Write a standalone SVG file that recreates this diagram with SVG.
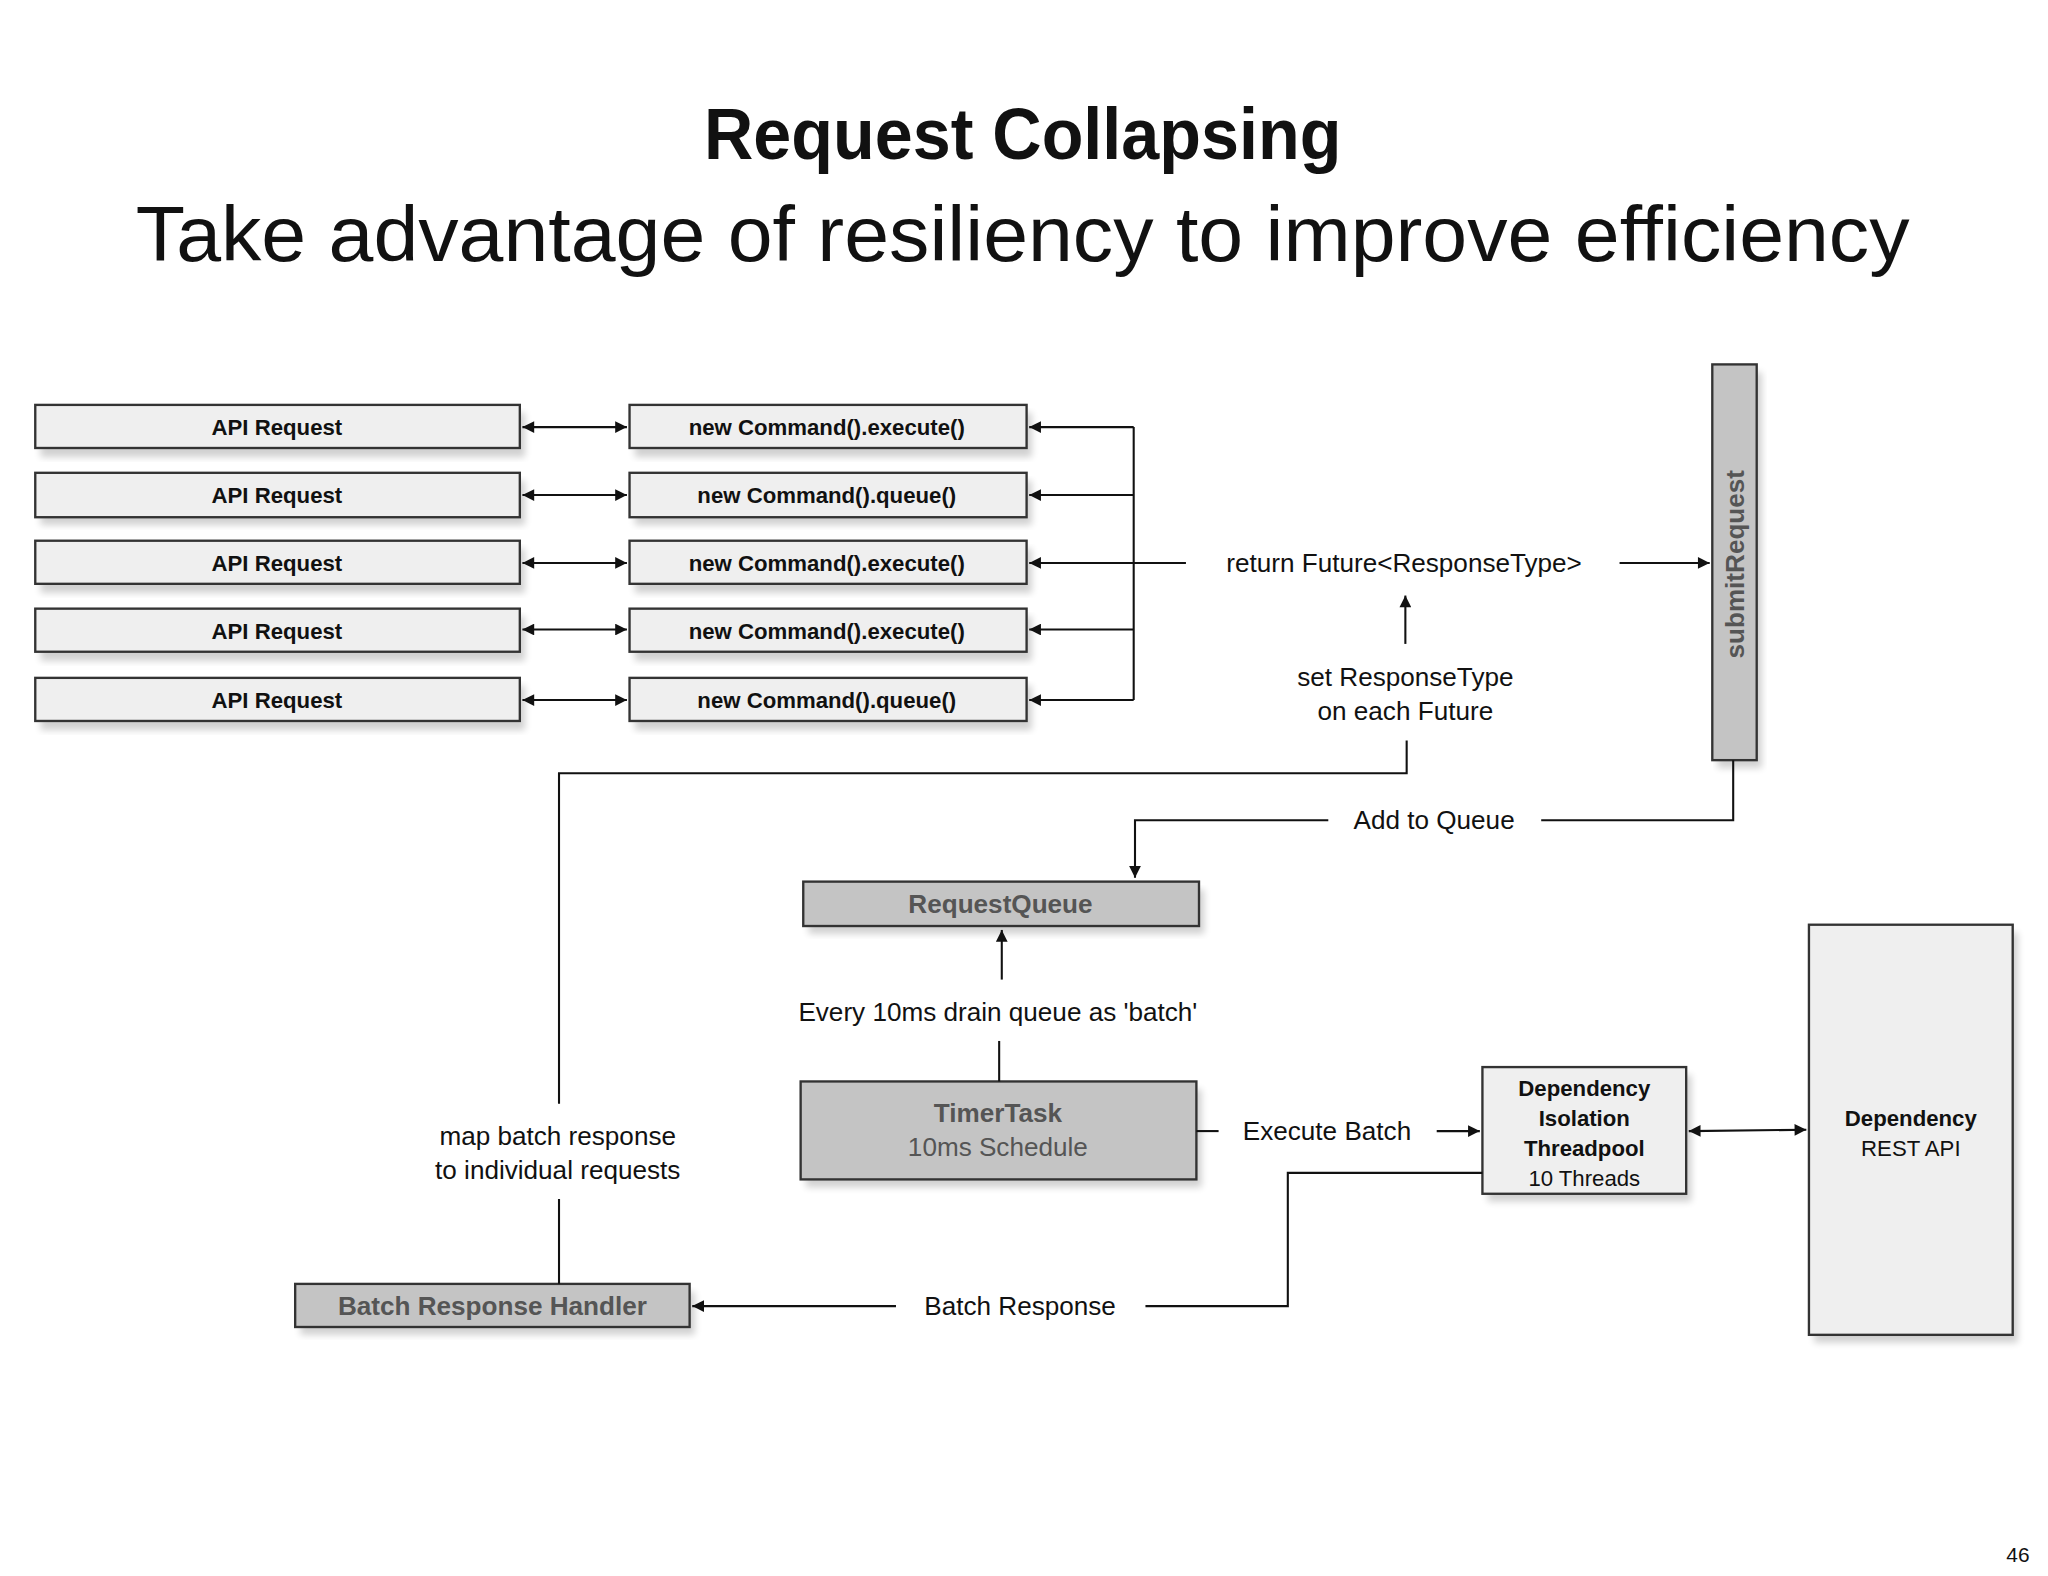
<svg xmlns="http://www.w3.org/2000/svg" width="2048" height="1576" viewBox="0 0 2048 1576">
<style>
.t{font-family:"Liberation Sans",Arial,sans-serif;fill:#111}
.b{font-weight:bold}
.box{fill:#efefef;stroke:#333;stroke-width:1.8}
.gbox{fill:#c4c4c4;stroke:#333;stroke-width:1.8}
.sh{fill:#000;opacity:0.18}
.ln{fill:none;stroke:#111;stroke-width:1.6}
</style>
<defs>
<marker id="a" viewBox="0 0 10 10" refX="10" refY="5" markerWidth="11" markerHeight="9" markerUnits="userSpaceOnUse" orient="auto-start-reverse"><path d="M0,0L10,5L0,10z" fill="#111"/></marker>
<filter id="blur"><feGaussianBlur stdDeviation="3"/></filter>
</defs>
<rect width="2048" height="1576" fill="#fff"/>
<g transform="scale(1.3061)">
<text class="t b" x="783" y="122" font-size="56" text-anchor="middle" textLength="488" lengthAdjust="spacingAndGlyphs">Request Collapsing</text>
<text class="t" x="783" y="200" font-size="60" text-anchor="middle" textLength="1358" lengthAdjust="spacingAndGlyphs">Take advantage of resiliency to improve efficiency</text>

<g id="api1"><rect class="sh" x="31" y="316" width="371" height="34" filter="url(#blur)"/><rect class="box" x="27" y="310" width="371" height="33"/><text class="t b" x="212" y="333" font-size="17" text-anchor="middle">API Request</text></g>
<g id="api2"><rect class="sh" x="31" y="368" width="371" height="34" filter="url(#blur)"/><rect class="box" x="27" y="362" width="371" height="34"/><text class="t b" x="212" y="385" font-size="17" text-anchor="middle">API Request</text></g>
<g id="api3"><rect class="sh" x="31" y="420" width="371" height="34" filter="url(#blur)"/><rect class="box" x="27" y="414" width="371" height="33"/><text class="t b" x="212" y="437" font-size="17" text-anchor="middle">API Request</text></g>
<g id="api4"><rect class="sh" x="31" y="472" width="371" height="34" filter="url(#blur)"/><rect class="box" x="27" y="466" width="371" height="33"/><text class="t b" x="212" y="489" font-size="17" text-anchor="middle">API Request</text></g>
<g id="api5"><rect class="sh" x="31" y="525" width="371" height="34" filter="url(#blur)"/><rect class="box" x="27" y="519" width="371" height="33"/><text class="t b" x="212" y="542" font-size="17" text-anchor="middle">API Request</text></g>

<g id="cmd1"><rect class="sh" x="486" y="316" width="304" height="34" filter="url(#blur)"/><rect class="box" x="482" y="310" width="304" height="33"/><text class="t b" x="633" y="333" font-size="17" text-anchor="middle">new Command().execute()</text></g>
<g id="cmd2"><rect class="sh" x="486" y="368" width="304" height="34" filter="url(#blur)"/><rect class="box" x="482" y="362" width="304" height="34"/><text class="t b" x="633" y="385" font-size="17" text-anchor="middle">new Command().queue()</text></g>
<g id="cmd3"><rect class="sh" x="486" y="420" width="304" height="34" filter="url(#blur)"/><rect class="box" x="482" y="414" width="304" height="33"/><text class="t b" x="633" y="437" font-size="17" text-anchor="middle">new Command().execute()</text></g>
<g id="cmd4"><rect class="sh" x="486" y="472" width="304" height="34" filter="url(#blur)"/><rect class="box" x="482" y="466" width="304" height="33"/><text class="t b" x="633" y="489" font-size="17" text-anchor="middle">new Command().execute()</text></g>
<g id="cmd5"><rect class="sh" x="486" y="525" width="304" height="34" filter="url(#blur)"/><rect class="box" x="482" y="519" width="304" height="33"/><text class="t b" x="633" y="542" font-size="17" text-anchor="middle">new Command().queue()</text></g>

<g id="submit"><rect class="sh" x="1315" y="285" width="34" height="303" filter="url(#blur)"/><rect class="gbox" x="1311" y="279" width="34" height="303"/><text class="t b" transform="translate(1335,432) rotate(-90)" font-size="20" text-anchor="middle" fill="#555" style="fill:#555">submitRequest</text></g>

<g id="rq"><rect class="sh" x="619" y="681" width="303" height="34" filter="url(#blur)"/><rect class="gbox" x="615" y="675" width="303" height="34"/><text class="t b" x="766" y="699" font-size="20" text-anchor="middle" style="fill:#555">RequestQueue</text></g>
<g id="timer"><rect class="sh" x="617" y="834" width="303" height="75" filter="url(#blur)"/><rect class="gbox" x="613" y="828" width="303" height="75"/><text class="t b" x="764" y="859" font-size="20" text-anchor="middle" style="fill:#555">TimerTask</text><text class="t" x="764" y="885" font-size="20" text-anchor="middle" style="fill:#555">10ms Schedule</text></g>
<g id="pool"><rect class="sh" x="1139" y="823" width="156" height="97" filter="url(#blur)"/><rect class="box" x="1135" y="817" width="156" height="97"/><text class="t b" x="1213" y="839" font-size="17" text-anchor="middle">Dependency</text><text class="t b" x="1213" y="862" font-size="17" text-anchor="middle">Isolation</text><text class="t b" x="1213" y="885" font-size="17" text-anchor="middle">Threadpool</text><text class="t" x="1213" y="908" font-size="17" text-anchor="middle">10 Threads</text></g>
<g id="rest"><rect class="sh" x="1389" y="714" width="156" height="314" filter="url(#blur)"/><rect class="box" x="1385" y="708" width="156" height="314"/><text class="t b" x="1463" y="862" font-size="17" text-anchor="middle">Dependency</text><text class="t" x="1463" y="885" font-size="17" text-anchor="middle">REST API</text></g>
<g id="brh"><rect class="sh" x="230" y="989" width="302" height="33" filter="url(#blur)"/><rect class="gbox" x="226" y="983" width="302" height="33"/><text class="t b" x="377" y="1007" font-size="20" text-anchor="middle" style="fill:#555">Batch Response Handler</text></g>

<g id="connectors">
<line class="ln" x1="400" y1="327" x2="480" y2="327" marker-start="url(#a)" marker-end="url(#a)"/>
<line class="ln" x1="400" y1="379" x2="480" y2="379" marker-start="url(#a)" marker-end="url(#a)"/>
<line class="ln" x1="400" y1="431" x2="480" y2="431" marker-start="url(#a)" marker-end="url(#a)"/>
<line class="ln" x1="400" y1="482" x2="480" y2="482" marker-start="url(#a)" marker-end="url(#a)"/>
<line class="ln" x1="400" y1="536" x2="480" y2="536" marker-start="url(#a)" marker-end="url(#a)"/>
<polyline class="ln" points="868,327 868,536"/>
<line class="ln" x1="868" y1="327" x2="788" y2="327" marker-end="url(#a)"/>
<line class="ln" x1="868" y1="379" x2="788" y2="379" marker-end="url(#a)"/>
<line class="ln" x1="908" y1="431" x2="788" y2="431" marker-end="url(#a)"/>
<line class="ln" x1="868" y1="482" x2="788" y2="482" marker-end="url(#a)"/>
<line class="ln" x1="868" y1="536" x2="788" y2="536" marker-end="url(#a)"/>
<text class="t" x="1075" y="438" font-size="20" text-anchor="middle">return Future&lt;ResponseType&gt;</text>
<line class="ln" x1="1240" y1="431" x2="1309" y2="431" marker-end="url(#a)"/>
<line class="ln" x1="1076" y1="493" x2="1076" y2="456" marker-end="url(#a)"/>
<text class="t" x="1076" y="525" font-size="20" text-anchor="middle">set ResponseType</text>
<text class="t" x="1076" y="551" font-size="20" text-anchor="middle">on each Future</text>
<polyline class="ln" points="1077,567 1077,592 428,592 428,845"/>
<text class="t" x="427" y="877" font-size="20" text-anchor="middle">map batch response</text>
<text class="t" x="427" y="903" font-size="20" text-anchor="middle">to individual requests</text>
<line class="ln" x1="428" y1="918" x2="428" y2="983"/>
<polyline class="ln" points="1327,582 1327,628 1180,628"/>
<text class="t" x="1098" y="635" font-size="20" text-anchor="middle">Add to Queue</text>
<polyline class="ln" points="1017,628 869,628 869,672" marker-end="url(#a)"/>
<line class="ln" x1="767" y1="750" x2="767" y2="712" marker-end="url(#a)"/>
<text class="t" x="764" y="782" font-size="20" text-anchor="middle">Every 10ms drain queue as 'batch'</text>
<line class="ln" x1="765" y1="797" x2="765" y2="828"/>
<line class="ln" x1="916" y1="866" x2="933" y2="866"/>
<text class="t" x="1016" y="873" font-size="20" text-anchor="middle">Execute Batch</text>
<line class="ln" x1="1100" y1="866" x2="1133" y2="866" marker-end="url(#a)"/>
<line class="ln" x1="1293" y1="866" x2="1383" y2="865" marker-start="url(#a)" marker-end="url(#a)"/>
<polyline class="ln" points="1135,898 986,898 986,1000 877,1000"/>
<text class="t" x="781" y="1007" font-size="20" text-anchor="middle">Batch Response</text>
<line class="ln" x1="686" y1="1000" x2="530" y2="1000" marker-end="url(#a)"/>
</g>
<text class="t" x="1545" y="1196" font-size="16" text-anchor="middle">46</text>
</g>
</svg>
